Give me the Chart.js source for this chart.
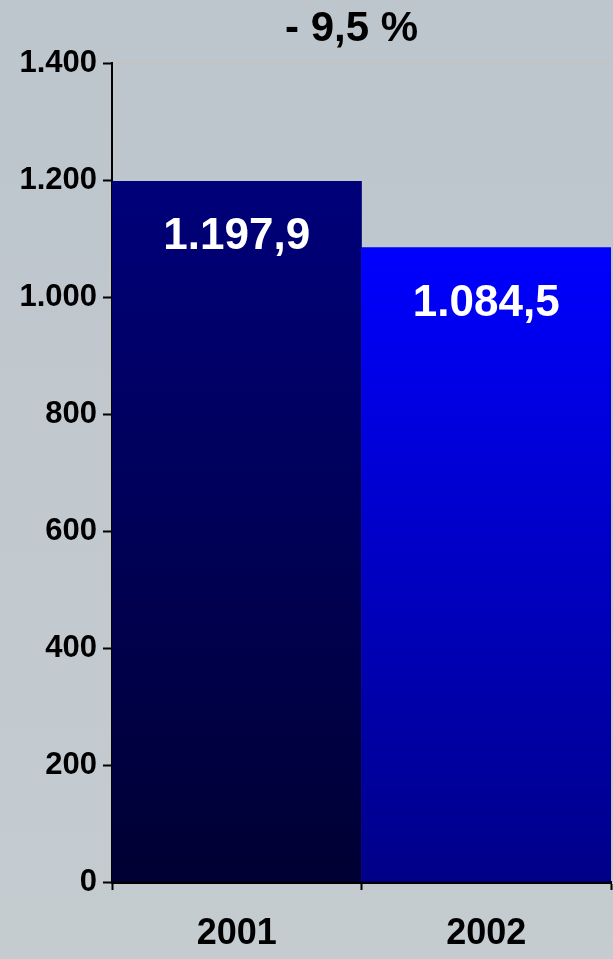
<!DOCTYPE html>
<html>
<head>
<meta charset="utf-8">
<script src="https://cdn.jsdelivr.net/npm/chart.js@4/dist/chart.umd.min.js"></script>
<style>
  html, body { margin: 0; padding: 0; }
  #wrap { position: relative; width: 613px; height: 959px; }
</style>
</head>
<body>
<div id="wrap"><canvas id="salesChart"></canvas></div>
<script>
const years = ["2001", "2002"];
const values = [1197.9, 1084.5];
const changeLabel = "- 9,5 %";
const yTicks = [0, 200, 400, 600, 800, 1000, 1200, 1400];

// German number format: 1.197,9
function fmt(v, decimals) {
  const parts = v.toFixed(decimals).split(".");
  const intPart = parts[0].replace(/\B(?=(\d{3})+(?!\d))/g, ".");
  return parts.length > 1 ? intPart + "," + parts[1] : intPart;
}

const barStops = [
  ["#00007a", "#000033"],
  ["#0000ff", "#000088"],
];

const bgPlugin = {
  id: "bg",
  beforeDraw(chart) {
    const { ctx, width, height } = chart;
    const g = ctx.createLinearGradient(0, 0, 0, height);
    g.addColorStop(0, "#bdc5cd");
    g.addColorStop(1, "#c5ccd0");
    ctx.save();
    ctx.fillStyle = g;
    ctx.fillRect(0, 0, width, height);
    ctx.restore();
  },
};

const labelPlugin = {
  id: "labels",
  afterDatasetsDraw(chart) {
    const { ctx, chartArea } = chart;
    ctx.save();
    ctx.fillStyle = "#ffffff";
    ctx.font = "bold 44px 'Liberation Sans', Arial, sans-serif";
    ctx.textAlign = "center";
    ctx.textBaseline = "middle";
    chart.getDatasetMeta(0).data.forEach((bar, i) => {
      ctx.fillText(fmt(values[i], 1), bar.x, bar.y + 56);
    });
    // headline with the change between years
    ctx.fillStyle = "#000000";
    ctx.font = "bold 42px 'Liberation Sans', Arial, sans-serif";
    ctx.fillText(changeLabel, (chartArea.left + chartArea.right) / 2 - 10, 29);
    ctx.restore();
  },
};

new Chart(document.getElementById("salesChart"), {
  type: "bar",
  data: {
    labels: years,
    datasets: [
      {
        data: values,
        backgroundColor(context) {
          const chart = context.chart;
          const { chartArea, scales } = chart;
          if (!chartArea) return barStops[context.dataIndex][0];
          const i = context.dataIndex;
          const top = scales.y.getPixelForValue(values[i]);
          const bottom = scales.y.getPixelForValue(0);
          const g = chart.ctx.createLinearGradient(0, top, 0, bottom);
          g.addColorStop(0, barStops[i][0]);
          g.addColorStop(1, barStops[i][1]);
          return g;
        },
        borderWidth: 0,
        barPercentage: 1,
        categoryPercentage: 1,
      },
    ],
  },
  options: {
    responsive: true,
    maintainAspectRatio: false,
    animation: false,
    layout: { padding: { top: 63, right: 2, left: 0, bottom: 0 } },
    plugins: {
      legend: { display: false },
      title: { display: false },
      tooltip: { enabled: false },
    },
    scales: {
      x: {
        grid: {
          drawOnChartArea: false,
          offset: true,
          tickColor: "#000000",
          tickLength: 8,
          tickWidth: 2,
        },
        border: { display: true, color: "#000000", width: 3 },
        ticks: {
          color: "#000000",
          padding: 22,
          font: { family: "'Liberation Sans', Arial, sans-serif", size: 36, weight: "bold" },
        },
        afterFit(scale) {
          scale.height = 77;
        },
      },
      y: {
        min: 0,
        max: 1400,
        afterBuildTicks(scale) {
          scale.ticks = yTicks.map((v) => ({ value: v }));
        },
        grid: {
          color(ctx) {
            return ctx.tick && ctx.tick.value === 1400 ? "rgba(205,190,175,0.8)" : "rgba(0,0,0,0)";
          },
          tickColor: "#000000",
          tickLength: 9,
          tickWidth: 2,
        },
        border: { display: true, color: "#000000", width: 2 },
        ticks: {
          color: "#000000",
          padding: 6,
          font: { family: "'Liberation Sans', Arial, sans-serif", size: 31, weight: "bold" },
          callback(value) {
            return fmt(value, 0);
          },
        },
        afterFit(scale) {
          scale.width = 112;
        },
      },
    },
  },
  plugins: [bgPlugin, labelPlugin],
});
</script>
</body>
</html>
